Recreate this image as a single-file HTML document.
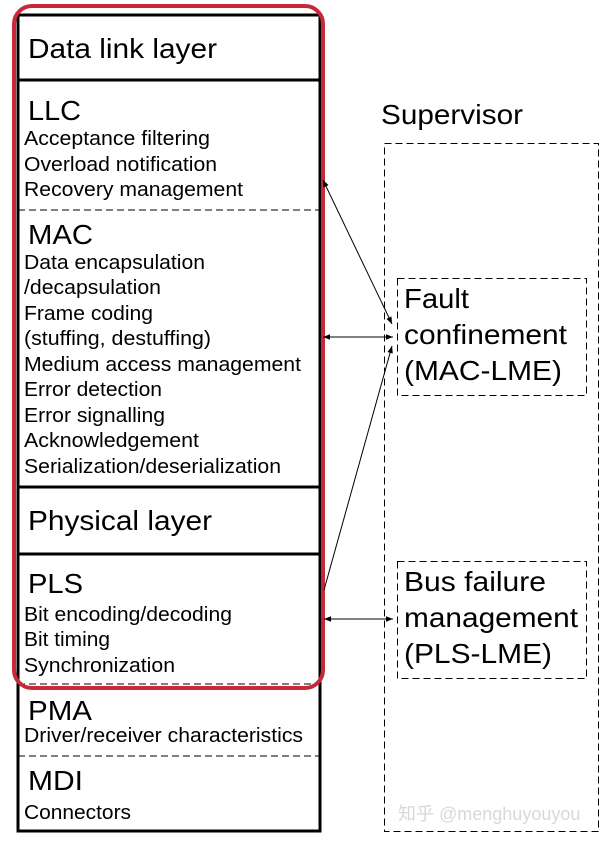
<!DOCTYPE html>
<html><head><meta charset="utf-8"><style>
html,body{margin:0;padding:0;background:#fff;}
svg{display:block;font-family:"Liberation Sans",Arial,sans-serif;}
</style></head><body>
<svg width="606" height="842" viewBox="0 0 606 842" xmlns="http://www.w3.org/2000/svg">
<defs>
<marker id="a" viewBox="0 0 10 10" refX="10" refY="5" markerWidth="9" markerHeight="7" orient="auto-start-reverse" markerUnits="userSpaceOnUse"><path d="M0,1 L10,5 L0,9 z" fill="#000"/></marker>
</defs>
<rect x="18" y="15" width="302" height="816" fill="none" stroke="#000" stroke-width="3"/>
<line x1="18" y1="80" x2="320" y2="80" stroke="#000" stroke-width="3"/>
<line x1="18" y1="210" x2="320" y2="210" stroke="#000" stroke-width="1" stroke-dasharray="7,4"/>
<line x1="18" y1="487" x2="320" y2="487" stroke="#000" stroke-width="3"/>
<line x1="18" y1="554" x2="320" y2="554" stroke="#000" stroke-width="3"/>
<line x1="18" y1="684" x2="320" y2="684" stroke="#000" stroke-width="1" stroke-dasharray="7,4"/>
<line x1="18" y1="756" x2="320" y2="756" stroke="#000" stroke-width="1" stroke-dasharray="7,4"/>
<rect x="14" y="6" width="309" height="682" rx="18" fill="none" stroke="#c8283a" stroke-width="4"/>
<g fill="#000" lengthAdjust="spacingAndGlyphs">
<g font-size="28">
<text x="28" y="58" textLength="189" lengthAdjust="spacingAndGlyphs">Data link layer</text>
<text x="28" y="120" textLength="53" lengthAdjust="spacingAndGlyphs">LLC</text>
<text x="28" y="244" textLength="65" lengthAdjust="spacingAndGlyphs">MAC</text>
<text x="28" y="530" textLength="184" lengthAdjust="spacingAndGlyphs">Physical layer</text>
<text x="28" y="593" textLength="55" lengthAdjust="spacingAndGlyphs">PLS</text>
<text x="28" y="720" textLength="64" lengthAdjust="spacingAndGlyphs">PMA</text>
<text x="28" y="790" textLength="55" lengthAdjust="spacingAndGlyphs">MDI</text>
<text x="381" y="124" textLength="142" lengthAdjust="spacingAndGlyphs">Supervisor</text>
<text x="404" y="308" textLength="65" lengthAdjust="spacingAndGlyphs">Fault</text>
<text x="404" y="344" textLength="163" lengthAdjust="spacingAndGlyphs">confinement</text>
<text x="404" y="380" textLength="158" lengthAdjust="spacingAndGlyphs">(MAC-LME)</text>
<text x="404" y="591" textLength="142" lengthAdjust="spacingAndGlyphs">Bus failure</text>
<text x="404" y="627" textLength="174" lengthAdjust="spacingAndGlyphs">management</text>
<text x="404" y="663" textLength="148" lengthAdjust="spacingAndGlyphs">(PLS-LME)</text>
</g>
<g font-size="20">
<text x="24" y="145" textLength="186" lengthAdjust="spacingAndGlyphs">Acceptance filtering</text>
<text x="24" y="171" textLength="193" lengthAdjust="spacingAndGlyphs">Overload notification</text>
<text x="24" y="196" textLength="219" lengthAdjust="spacingAndGlyphs">Recovery management</text>
<text x="24" y="269" textLength="181" lengthAdjust="spacingAndGlyphs">Data encapsulation</text>
<text x="24" y="294" textLength="137" lengthAdjust="spacingAndGlyphs">/decapsulation</text>
<text x="24" y="320" textLength="129" lengthAdjust="spacingAndGlyphs">Frame coding</text>
<text x="24" y="345" textLength="187" lengthAdjust="spacingAndGlyphs">(stuffing, destuffing)</text>
<text x="24" y="371" textLength="277" lengthAdjust="spacingAndGlyphs">Medium access management</text>
<text x="24" y="396" textLength="138" lengthAdjust="spacingAndGlyphs">Error detection</text>
<text x="24" y="422" textLength="141" lengthAdjust="spacingAndGlyphs">Error signalling</text>
<text x="24" y="447" textLength="175" lengthAdjust="spacingAndGlyphs">Acknowledgement</text>
<text x="24" y="473" textLength="257" lengthAdjust="spacingAndGlyphs">Serialization/deserialization</text>
<text x="24" y="621" textLength="208" lengthAdjust="spacingAndGlyphs">Bit encoding/decoding</text>
<text x="24" y="646" textLength="86" lengthAdjust="spacingAndGlyphs">Bit timing</text>
<text x="24" y="672" textLength="151" lengthAdjust="spacingAndGlyphs">Synchronization</text>
<text x="24" y="742" textLength="279" lengthAdjust="spacingAndGlyphs">Driver/receiver characteristics</text>
<text x="24" y="819" textLength="107" lengthAdjust="spacingAndGlyphs">Connectors</text>
</g>
</g>
<g fill="none" stroke="#000" stroke-width="1" stroke-dasharray="7,4">
<rect x="384.5" y="143.5" width="214" height="688"/>
<rect x="397.5" y="278.5" width="189" height="117"/>
<rect x="397.5" y="561.5" width="189" height="117"/>
</g>
<g stroke="#000" stroke-width="1" fill="none">
<line x1="323" y1="180" x2="392" y2="324" marker-start="url(#a)" marker-end="url(#a)"/>
<line x1="323" y1="337" x2="393" y2="337" marker-start="url(#a)" marker-end="url(#a)"/>
<line x1="324" y1="590" x2="392" y2="346" marker-end="url(#a)"/>
<line x1="324" y1="619" x2="393" y2="619" marker-start="url(#a)" marker-end="url(#a)"/>
</g>
<text x="398" y="820" font-size="18" fill="#d8d8d8" font-family="Liberation Sans, Noto Sans CJK SC, sans-serif">知乎 @menghuyouyou</text>
</svg>
</body></html>
